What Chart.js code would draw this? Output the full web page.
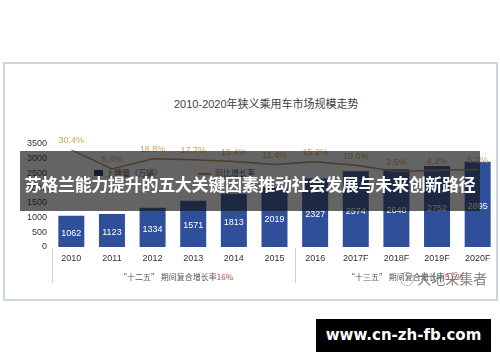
<!DOCTYPE html>
<html><head><meta charset="utf-8">
<script src="https://cdn.jsdelivr.net/npm/chart.js@4.4.0/dist/chart.umd.min.js"></script>
<style>
html,body{margin:0;padding:0;background:#fff;}
#wrap{position:relative;width:500px;height:362px;overflow:hidden;font-family:"Liberation Sans",Arial,"Noto Sans CJK SC",sans-serif;}
#frame{position:absolute;left:3px;top:62px;width:491px;height:235px;border:2px solid #c9d6e5;background:#fff;}
#c{position:absolute;left:0;top:0;}
.t{position:absolute;white-space:nowrap;}
#title{left:174px;top:95px;font-size:11px;color:#404040;font-family:"Liberation Sans","Noto Sans CJK SC",sans-serif;}
#band{position:absolute;left:20px;top:151px;width:460px;height:60px;background:rgba(20,20,20,0.66);color:#fff;font-family:"Noto Sans CJK SC",sans-serif;font-weight:bold;font-size:17px;text-align:center;line-height:66px;letter-spacing:-0.3px;}
#url{position:absolute;left:316px;top:319px;width:175px;height:33px;background:#000;color:#fff;font-family:"DejaVu Sans",sans-serif;font-weight:bold;font-size:15px;text-align:center;line-height:33px;}
.foot{font-size:8px;color:#555;font-family:"Noto Sans CJK SC",sans-serif;top:271px;}
#wm{left:400px;top:268px;font-size:14px;color:rgba(110,110,110,0.85);font-family:"Noto Sans CJK SC",sans-serif;}
.leg{font-size:8px;color:#444;font-family:"Noto Sans CJK SC",sans-serif;top:167px;}
</style></head>
<body>
<div id="wrap">
  <div id="frame"></div>
  <div class="t" id="title">2010-2020年狭义乘用车市场规模走势</div>
  <div class="t leg" style="left:94px;top:170px;width:9px;height:6px;background:#1c2d5a;"></div>
  <div class="t leg" style="left:106px;">上牌量（万辆）</div>
  <div class="t leg" style="left:198px;top:173px;width:13px;height:2px;background:#b8895a;"></div>
  <div class="t leg" style="left:215px;">同比增长率</div>
  <canvas id="c" width="500" height="362"></canvas>
  <div class="t foot" style="left:119px;">“十二五” 期间复合增长率<span style="color:#c0392b">16%</span></div>
  <div class="t foot" style="left:347px;">“十三五” 期间复合增长率<span style="color:#c0392b">5.6%</span></div>
  <div class="t" id="wm">◯ 大地采集者</div>
  <div id="band">苏格兰能力提升的五大关键因素推动社会发展与未来创新路径</div>
  <div id="url">www.cn-zh-fb.com</div>
</div>
<script>
const categories = ['2010','2011','2012','2013','2014','2015','2016','2017F','2018F','2019F','2020F'];
const registrations = [1062,1123,1334,1571,1813,2019,2327,2574,2640,2752,2895];
const growthRates = [30.4,5.8,18.8,17.7,15.4,11.4,15.2,10.6,2.6,4.2,5.2];
const yTicks = [0,500,1000,1500,2000,2500,3000,3500];

const labelPlugin = {
  id: 'labels',
  afterDatasetsDraw(chart) {
    const ctx = chart.ctx;
    ctx.save();
    ctx.textAlign = 'center';
    ctx.textBaseline = 'middle';
    ctx.font = '9px "Liberation Sans", Arial, sans-serif';
    const bars = chart.getDatasetMeta(1).data;
    bars.forEach((b, i) => {
      ctx.fillStyle = '#ffffff';
      ctx.fillText(String(registrations[i]), b.x, (b.y + b.base) / 2 + 2);
    });
    const pts = chart.getDatasetMeta(0).data;
    pts.forEach((p, i) => {
      ctx.fillStyle = '#d9a05a';
      ctx.fillText(growthRates[i].toFixed(1) + '%', p.x, p.y - 9);
    });
    const xs = chart.scales.x;
    const area = chart.chartArea;
    ctx.strokeStyle = '#d0d0d0';
    ctx.lineWidth = 1;
    const sepX = [area.left + 1, (xs.getPixelForValue(5) + xs.getPixelForValue(6)) / 2];
    sepX.forEach(x => {
      ctx.beginPath();
      ctx.moveTo(Math.round(x) + 0.5, area.bottom + 1);
      ctx.lineTo(Math.round(x) + 0.5, area.bottom + 36);
      ctx.stroke();
    });
    ctx.restore();
  }
};

new Chart(document.getElementById('c'), {
  data: {
    labels: categories,
    datasets: [
      {
        type: 'line', label: '同比增长率', data: growthRates, yAxisID: 'y2',
        borderColor: '#b8895a', borderWidth: 1.5, pointRadius: 0, tension: 0, order: 0
      },
      {
        type: 'bar', label: '上牌量（万辆）', data: registrations, yAxisID: 'y',
        backgroundColor: '#2f4f9b', categoryPercentage: 1, barPercentage: 0.64, order: 1
      }
    ]
  },
  options: {
    responsive: false, animation: false, devicePixelRatio: 1,
    layout: { padding: { left: 25, right: 2, top: 144, bottom: 95 } },
    plugins: { legend: { display: false }, tooltip: { enabled: false }, title: { display: false } },
    scales: {
      x: {
        grid: { display: false, drawTicks: false }, border: { display: false },
        ticks: { color: '#333', font: { size: 9 }, padding: 6, maxRotation: 0, autoSkip: false },
        afterFit(s) { s.height = 20; }
      },
      y: {
        min: 0, max: 3500,
        grid: { display: false, drawTicks: false }, border: { display: false },
        afterBuildTicks(s) { s.ticks = yTicks.map(v => ({ value: v })); },
        ticks: { color: '#333', font: { size: 9 }, padding: 4, callback: v => String(v) },
        afterFit(s) { s.width = 26; }
      },
      y2: { display: false, min: -95, max: 38 }
    }
  },
  plugins: [labelPlugin]
});
</script>
</body></html>
